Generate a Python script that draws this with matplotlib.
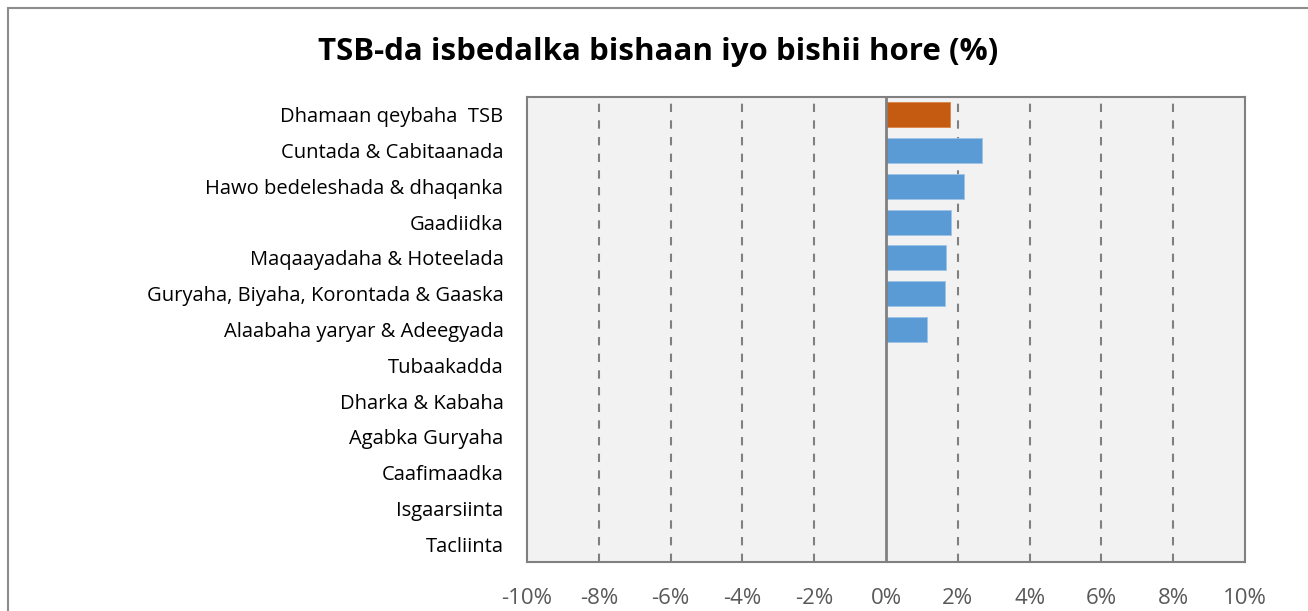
import matplotlib
matplotlib.use('Agg')
import matplotlib.pyplot as plt
from matplotlib.patches import Rectangle
from matplotlib.ticker import FuncFormatter

# categories, top to bottom
categories = [
    "Dhamaan qeybaha  TSB",
    "Cuntada & Cabitaanada",
    "Hawo bedeleshada & dhaqanka",
    "Gaadiidka",
    "Maqaayadaha & Hoteelada",
    "Guryaha, Biyaha, Korontada & Gaaska",
    "Alaabaha yaryar & Adeegyada",
    "Tubaakadda",
    "Dharka & Kabaha",
    "Agabka Guryaha",
    "Caafimaadka",
    "Isgaarsiinta",
    "Tacliinta",
]
values = [1.78, 2.67, 2.17, 1.81, 1.67, 1.64, 1.14, 0, 0, 0, 0, 0, 0]
xticks = [-10, -8, -6, -4, -2, 0, 2, 4, 6, 8, 10]

ORANGE = "#C55A11"
BLUE = "#5B9BD5"
GRID = "#808080"

plt.rcParams['font.family'] = ['Open Sans', 'DejaVu Sans']

fig = plt.figure(figsize=(13.08, 6.11), dpi=100)
fig.patch.set_facecolor("white")

# outer chart frame (cropped at right/bottom in the reference)
fig.patches.append(Rectangle((8 / 1308, -0.1), 1.2, 1 - 8 / 611 + 0.1,
                             transform=fig.transFigure, fill=False,
                             edgecolor="#8c8c8c", linewidth=1.5))

ax = fig.add_axes([527 / 1308, 1 - 562 / 611, (1245 - 527) / 1308, (562 - 97) / 611])
ax.set_facecolor("#F2F2F2")

ypos = list(range(len(categories)))
colors = [ORANGE] + [BLUE] * (len(categories) - 1)
ax.barh(ypos, values, height=0.7, color=colors, edgecolor="#9dc3e6", linewidth=0.6, zorder=3)
ax.patches[0].set_edgecolor("#d9844a")

ax.set_ylim(len(categories) - 0.5, -0.5)
ax.set_xlim(-10, 10)
ax.set_xticks(xticks)
ax.xaxis.set_major_formatter(FuncFormatter(lambda v, p: f"{v:.0f}%"))

for t in xticks:
    if t in (-10, 10):
        continue
    if t == 0:
        ax.axvline(0, color=GRID, linewidth=2, zorder=4)
    else:
        ax.axvline(t, color=GRID, linewidth=1.5, linestyle=(0, (4, 4)), zorder=2)

ax.set_yticks(ypos)
ax.set_yticklabels(categories, fontsize=14.5, color="black")
ax.tick_params(axis='y', length=0, pad=17)
ax.tick_params(axis='x', length=0, pad=19, labelsize=16, labelcolor="#595959")

for s in ax.spines.values():
    s.set_color(GRID)
    s.set_linewidth(1.5)

fig.text(658 / 1308, 1 - 52 / 611, "TSB-da isbedalka bishaan iyo bishii hore (%)",
         ha="center", va="center", fontsize=22.5, fontweight="bold")

fig.savefig("out.png", dpi=100)
